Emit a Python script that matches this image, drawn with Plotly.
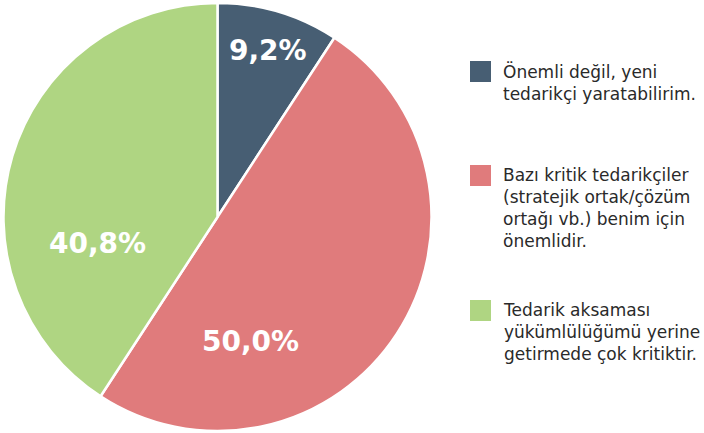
import plotly.graph_objects as go

categories = [
    "Önemli değil, yeni<br>tedarikçi yaratabilirim.",
    "Bazı kritik tedarikçiler<br>(stratejik ortak/çözüm<br>ortağı vb.) benim için<br>önemlidir.",
    "Tedarik aksaması<br>yükümlülüğümü yerine<br>getirmede çok kritiktir.",
]
values = [9.2, 50.0, 40.8]
colors = ["#475e73", "#e07b7c", "#afd582"]

W, H = 704, 433

def px(x):
    return x / W

def py(y):
    return 1 - y / H

fig = go.Figure()
fig.add_trace(go.Pie(
    labels=categories,
    values=values,
    sort=False,
    direction="clockwise",
    rotation=0,
    marker=dict(colors=colors, line=dict(color="white", width=2.5)),
    textinfo="none",
    hoverinfo="skip",
    showlegend=False,
    domain=dict(x=[px(3.5), px(431.5)], y=[py(431), py(3)]),
))

# percentage labels
label_pos = [(268, 50), (250, 341), (97, 243)]
for v, (lx, ly) in zip(values, label_pos):
    fig.add_annotation(
        x=px(lx), y=py(ly), xref="paper", yref="paper",
        text=f"{v:.1f}%".replace(".", ","),
        showarrow=False, xanchor="center", yanchor="middle",
        font=dict(family="DejaVu Sans", size=28, color="white", weight="bold"),
    )

# manual legend
legend_tops = [61, 165, 300]
for cat, col, top in zip(categories, colors, legend_tops):
    fig.add_shape(
        type="rect", xref="paper", yref="paper",
        x0=px(470), x1=px(491), y0=py(top), y1=py(top + 21),
        fillcolor=col, line=dict(width=0),
    )
    fig.add_annotation(
        x=px(501), y=py(top - 2), xref="paper", yref="paper",
        text=cat, showarrow=False, xanchor="left", yanchor="top",
        align="left",
        font=dict(family="DejaVu Sans", size=17, color="#2a2a2a"),
    )

fig.update_layout(
    width=W, height=H,
    margin=dict(l=0, r=0, t=0, b=0),
    paper_bgcolor="white",
    plot_bgcolor="white",
)

fig.write_html(
    "out.html",
    config={"displayModeBar": False},
    post_script="document.body.style.margin='0';",
)
